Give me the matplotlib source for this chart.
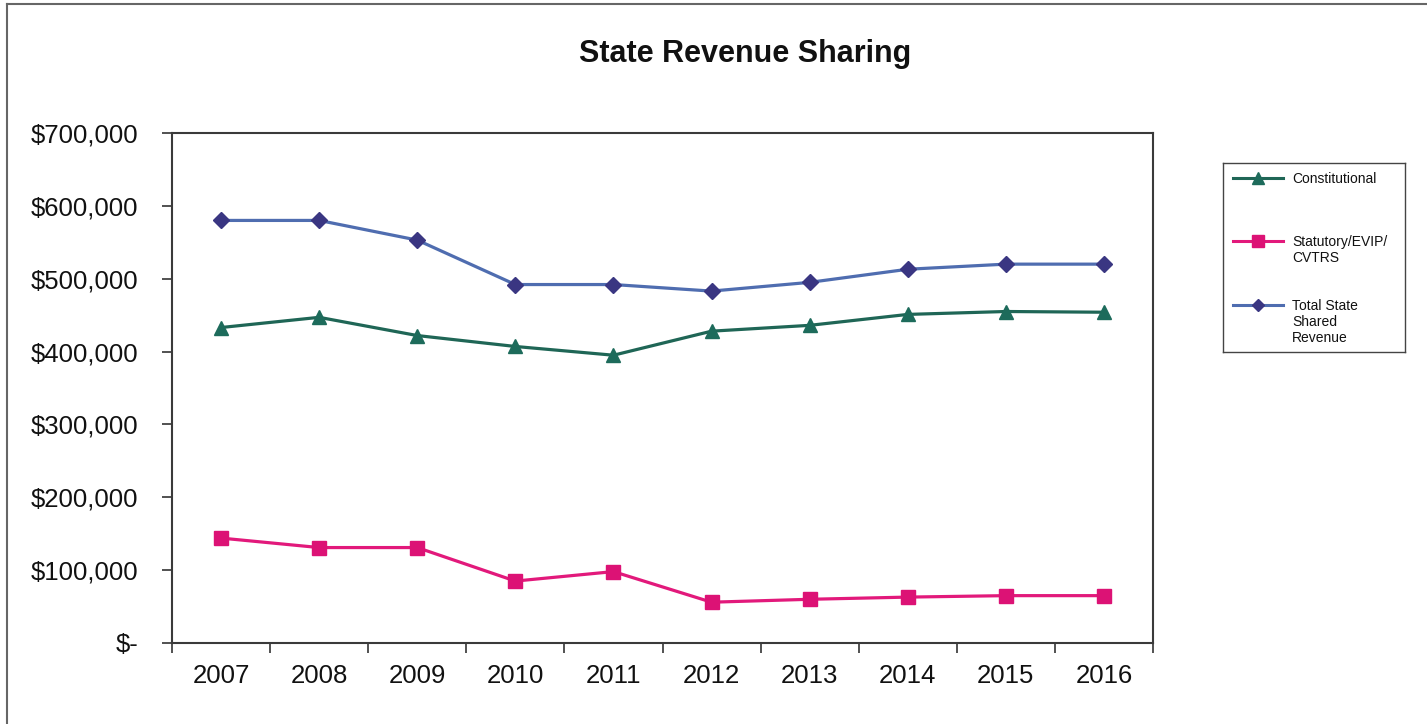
"""
State Revenue Sharing chart

Three revenue series by fiscal year, drawn as an Excel style line chart
with a boxed legend on the right.
"""

import matplotlib
matplotlib.use("Agg")
import matplotlib.pyplot as plt
from matplotlib.lines import Line2D
from matplotlib.ticker import FuncFormatter, FixedLocator

#Chart data (dollars)
YEARS = ["2007", "2008", "2009", "2010", "2011",
         "2012", "2013", "2014", "2015", "2016"]
CONSTITUTIONAL = [433000, 447000, 422000, 407000, 395000,
                  428000, 436000, 451000, 455000, 454000]
STATUTORY = [144000, 131000, 131000, 85000, 98000,
             56000, 60000, 63000, 65000, 65000]
TOTAL = [580000, 580000, 553000, 492000, 492000,
         483000, 495000, 513000, 520000, 520000]
Y_TICKS = [0, 100000, 200000, 300000, 400000, 500000, 600000, 700000]

SERIES = [
    ("Constitutional", CONSTITUTIONAL, "#1f6656", "#1d6b5b", "^", 10),
    ("Statutory/EVIP/\nCVTRS", STATUTORY, "#e2197b", "#dc1275", "s", 10),
    ("Total State\nShared\nRevenue", TOTAL, "#4f6db0", "#3a3682", "D", 8),
]

W, H = 1427, 724

plt.rcParams["font.family"] = ["Liberation Sans", "DejaVu Sans"]


def money(value, pos):
    """Excel accounting style labels"""
    if value == 0:
        return "$-"
    return "${:,.0f}".format(value)


def draw_legend(fig):
    """Boxed legend with the marker on the first text line"""
    lax = fig.add_axes([1223 / W, 1 - 352 / H, 182 / W, 189 / H])
    lax.set_xlim(0, 182)
    lax.set_ylim(189, 0)
    lax.set_xticks([])
    lax.set_yticks([])
    for side in lax.spines.values():
        side.set_color("#444444")
        side.set_linewidth(1.0)

    rows = [15, 78, 142]
    for (label, _, lc, mc, mk, ms), y in zip(SERIES, rows):
        lax.plot([10, 60], [y, y], color=lc, lw=2.2)
        lax.plot([35], [y], marker=mk, ms=ms * 0.8, color=mc, lw=0)
        lax.text(69, y - 6, label, fontsize=10, va="top", ha="left",
                 linespacing=1.2, color="#111111")


def main():
    fig = plt.figure(figsize=(W / 100, H / 100), dpi=100)
    fig.patch.set_facecolor("white")

    #Outer chart border (left and top only are in the picture)
    fig.add_artist(Line2D([7 / W, 7 / W], [0, 1 - 4 / H],
                          transform=fig.transFigure, color="#666666", lw=1.5))
    fig.add_artist(Line2D([7 / W, 1], [1 - 4 / H, 1 - 4 / H],
                          transform=fig.transFigure, color="#666666", lw=1.5))

    ax = fig.add_axes([172 / W, 1 - 643 / H, (1153 - 172) / W, (643 - 133) / H])
    ax.set_facecolor("white")

    x = list(range(len(YEARS)))
    for label, values, lc, mc, mk, ms in SERIES:
        ax.plot(x, values, color=lc, lw=2.3, marker=mk, ms=ms,
                markerfacecolor=mc, markeredgecolor=mc, label=label)

    #Axes limits and ticks
    ax.set_xlim(-0.5, len(YEARS) - 0.5)
    ax.set_ylim(0, 700000)
    ax.set_yticks(Y_TICKS)
    ax.yaxis.set_major_formatter(FuncFormatter(money))
    ax.set_xticks(x)
    ax.set_xticklabels(YEARS)
    ax.xaxis.set_minor_locator(FixedLocator([i - 0.5 for i in range(len(YEARS) + 1)]))

    ax.tick_params(axis="x", which="major", length=0, pad=15,
                   labelsize=18.5, colors="#111111")
    ax.tick_params(axis="x", which="minor", length=7, width=1.2,
                   direction="out", color="#333333")
    ax.tick_params(axis="y", length=7, width=1.2, direction="out",
                   pad=17, labelsize=18.5, colors="#333333", labelcolor="#111111")

    for side in ax.spines.values():
        side.set_color("#3a3a3a")
        side.set_linewidth(1.5)

    #Title
    fig.text(745 / W, 1 - 54 / H, "State Revenue Sharing", fontsize=22,
             fontweight="bold", ha="center", va="center", color="#111111")

    draw_legend(fig)

    fig.savefig("out.png", dpi=100)
    plt.close(fig)


if __name__ == "__main__":
    main()
